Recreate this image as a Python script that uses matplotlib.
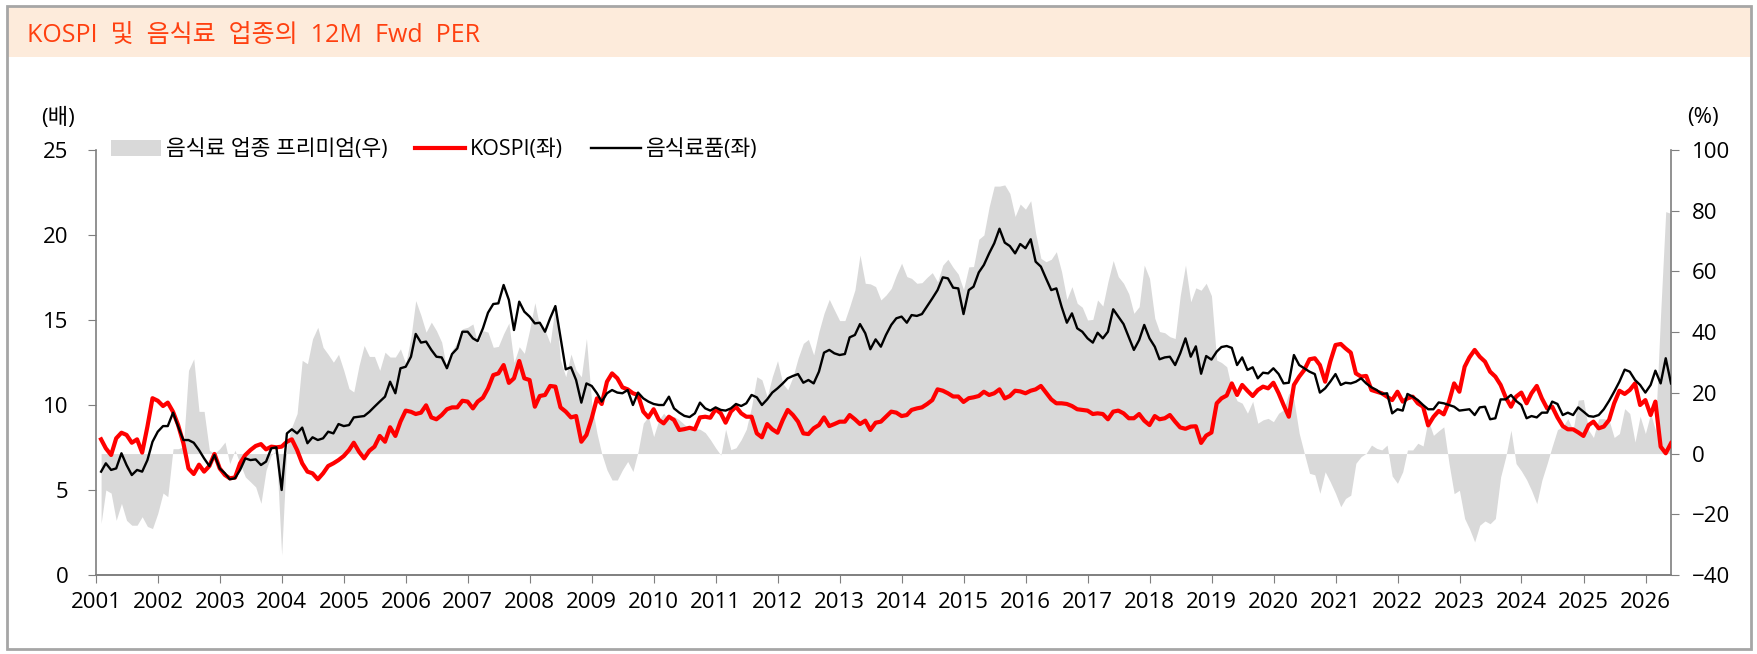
import matplotlib.pyplot as plt
import pandas as pd
from matplotlib.patches import Patch, Rectangle
from matplotlib.lines import Line2D

plt.rcParams['font.family'] = ['Open Sans', 'Noto Sans CJK KR', 'DejaVu Sans']

# 월말 기준, 2001.01 ~ 2026.05
kospi = [
    7.98, 7.45, 7.06, 8.04, 8.37, 8.24, 7.78, 7.98, 7.20, 8.73, 10.40, 10.25,   # 2001
    9.94, 10.14, 9.60, 8.82, 7.75, 6.27, 5.94, 6.49, 6.08, 6.41, 7.12, 6.27,    # 2002
    5.88, 5.69, 5.73, 6.57, 7.06, 7.35, 7.59, 7.70, 7.39, 7.55, 7.51, 7.55,     # 2003
    7.84, 7.98, 7.35, 6.57, 6.08, 5.98, 5.63, 5.98, 6.41, 6.57, 6.76, 7.00,     # 2004
    7.35, 7.78, 7.25, 6.86, 7.31, 7.55, 8.18, 7.84, 8.69, 8.18, 9.02, 9.67,     # 2005
    9.60, 9.47, 9.55, 9.98, 9.27, 9.16, 9.41, 9.75, 9.86, 9.86, 10.25, 10.20,   # 2006
    9.80, 10.20, 10.43, 10.98, 11.76, 11.86, 12.35, 11.30, 11.57, 12.59, 11.57, 11.47,  # 2007
    9.90, 10.53, 10.59, 11.12, 11.08, 9.86, 9.61, 9.27, 9.35, 7.84, 8.24, 9.22,  # 2008
    10.39, 10.06, 11.37, 11.86, 11.57, 11.04, 10.92, 10.69, 10.59, 9.61, 9.27, 9.75,  # 2009
    9.12, 8.92, 9.31, 9.12, 8.53, 8.58, 8.66, 8.57, 9.27, 9.31, 9.25, 9.75,     # 2010
    9.51, 8.96, 9.61, 9.90, 9.51, 9.31, 9.31, 8.33, 8.10, 8.88, 8.57, 8.37,     # 2011
    9.12, 9.71, 9.41, 9.02, 8.33, 8.29, 8.63, 8.82, 9.27, 8.76, 8.88, 9.02,     # 2012
    9.02, 9.41, 9.16, 8.88, 9.08, 8.53, 8.96, 9.02, 9.31, 9.61, 9.55, 9.35,     # 2013
    9.41, 9.71, 9.80, 9.86, 10.06, 10.29, 10.92, 10.84, 10.69, 10.50, 10.50, 10.18,  # 2014
    10.40, 10.45, 10.53, 10.78, 10.59, 10.69, 10.92, 10.39, 10.53, 10.84, 10.80, 10.69,  # 2015
    10.84, 10.92, 11.12, 10.73, 10.33, 10.10, 10.10, 10.06, 9.94, 9.75, 9.71, 9.67,  # 2016
    9.47, 9.51, 9.47, 9.16, 9.61, 9.67, 9.51, 9.22, 9.22, 9.47, 9.08, 8.82,     # 2017
    9.35, 9.16, 9.22, 9.41, 9.02, 8.68, 8.60, 8.73, 8.75, 7.77, 8.20, 8.38,     # 2018
    10.10, 10.39, 10.56, 11.27, 10.59, 11.18, 10.84, 10.53, 10.88, 11.08, 10.98, 11.31,  # 2019
    10.69, 10.00, 9.31, 11.18, 11.67, 12.06, 12.69, 12.75, 12.35, 11.37, 12.55, 13.53,  # 2020
    13.59, 13.33, 13.08, 11.86, 11.67, 11.71, 10.88, 10.78, 10.69, 10.49, 10.29, 10.78,  # 2021
    10.20, 10.39, 10.49, 10.10, 9.90, 8.80, 9.30, 9.65, 9.45, 10.20, 11.27, 10.78,  # 2022
    12.25, 12.80, 13.24, 12.84, 12.55, 11.96, 11.67, 11.18, 10.45, 9.90, 10.49, 10.73,  # 2023
    10.10, 10.69, 11.12, 10.39, 9.80, 9.90, 9.27, 8.76, 8.57, 8.57, 8.39, 8.18,  # 2024
    8.82, 9.02, 8.63, 8.73, 9.12, 10.10, 10.84, 10.65, 10.88, 11.27, 10.00, 10.29,  # 2025
    9.41, 10.20, 7.55, 7.16, 7.75,                                              # 2026
]

food = [
    6.08, 6.57, 6.18, 6.27, 7.16, 6.47, 5.88, 6.18, 6.08, 6.76, 7.84, 8.43,     # 2001
    8.76, 8.76, 9.55, 8.73, 7.94, 7.94, 7.78, 7.35, 6.86, 6.41, 7.06, 6.27,     # 2002
    5.98, 5.63, 5.69, 6.18, 6.86, 6.76, 6.80, 6.47, 6.67, 7.45, 7.51, 5.00,     # 2003
    8.33, 8.57, 8.33, 8.67, 7.75, 8.10, 7.94, 8.04, 8.43, 8.33, 8.88, 8.76,     # 2004
    8.82, 9.27, 9.31, 9.35, 9.60, 9.90, 10.20, 10.49, 11.37, 10.69, 12.16, 12.25,  # 2005
    12.84, 14.18, 13.67, 13.73, 13.24, 12.84, 12.80, 12.16, 13.00, 13.33, 14.31, 14.31,  # 2006
    13.92, 13.76, 14.51, 15.43, 15.94, 15.98, 17.06, 16.18, 14.41, 16.08, 15.49, 15.20,  # 2007
    14.80, 14.84, 14.31, 15.10, 15.82, 14.00, 12.10, 12.22, 11.47, 10.14, 11.27, 11.12,  # 2008
    10.69, 10.20, 10.69, 10.88, 10.73, 10.69, 10.88, 10.00, 10.73, 10.39, 10.20, 10.06,  # 2009
    10.00, 10.00, 10.49, 9.80, 9.55, 9.36, 9.29, 9.51, 10.14, 9.80, 9.67, 9.86,  # 2010
    9.71, 9.67, 9.80, 10.06, 9.94, 10.10, 10.59, 10.45, 10.00, 10.33, 10.73, 10.98,  # 2011
    11.27, 11.57, 11.71, 11.82, 11.31, 11.47, 11.27, 11.96, 13.08, 13.24, 13.04, 12.94,  # 2012
    13.00, 13.98, 14.12, 14.76, 14.22, 13.28, 13.86, 13.43, 14.12, 14.71, 15.10, 15.20,  # 2013
    14.84, 15.29, 15.24, 15.35, 15.82, 16.27, 16.76, 17.51, 17.45, 16.90, 16.86, 15.35,  # 2014
    16.76, 16.96, 17.80, 18.24, 18.92, 19.51, 20.37, 19.55, 19.35, 18.92, 19.47, 19.22,  # 2015
    19.75, 18.43, 18.14, 17.45, 16.76, 16.86, 15.78, 14.84, 15.39, 14.51, 14.31, 13.92,  # 2016
    13.67, 14.25, 13.92, 14.31, 15.63, 15.20, 14.76, 13.98, 13.24, 13.82, 14.71, 13.92,  # 2017
    13.43, 12.69, 12.80, 12.84, 12.35, 13.04, 13.92, 12.84, 13.45, 11.84, 12.88, 12.67,  # 2018
    13.14, 13.41, 13.47, 13.36, 12.35, 12.80, 12.06, 12.22, 11.57, 11.90, 11.86, 12.16,  # 2019
    11.82, 11.27, 11.31, 12.94, 12.35, 12.16, 11.96, 11.82, 10.73, 10.98, 11.37, 11.82,  # 2020
    11.18, 11.31, 11.27, 11.37, 11.57, 11.27, 11.04, 10.88, 10.65, 10.69, 9.51, 9.75,  # 2021
    9.67, 10.65, 10.49, 10.29, 10.00, 9.75, 9.75, 10.15, 10.10, 10.00, 9.90, 9.67,  # 2022
    9.71, 9.75, 9.41, 9.86, 9.90, 9.16, 9.22, 10.33, 10.33, 10.59, 10.24, 10.00,  # 2023
    9.22, 9.35, 9.27, 9.55, 9.55, 10.20, 10.06, 9.41, 9.55, 9.41, 9.86, 9.61,   # 2024
    9.35, 9.31, 9.41, 9.75, 10.24, 10.78, 11.37, 12.08, 11.96, 11.47, 11.18, 10.73,  # 2025
    11.18, 12.02, 11.27, 12.75, 11.27,                                          # 2026
]

# 음식료 업종 프리미엄(%)
premium = [
    -23.0, -12.0, -13.0, -22.0, -16.4, -22.0, -23.6, -23.6, -20.8, -24.0, -24.7, -19.7,  # 2001
    -13.0, -14.2, 1.6, 1.6, 2.2, 27.4, 31.2, 13.9, 13.9, 1.1, 0.0, 1.6,         # 2002
    3.8, -3.3, 1.1, -3.3, -7.7, -9.3, -11.0, -16.4, -5.5, -0.5, 1.1, -33.4,     # 2003
    2.7, 8.8, 13.2, 30.7, 29.6, 37.8, 41.6, 35.0, 32.7, 30.1, 32.7, 27.4,       # 2004
    21.4, 20.3, 29.0, 35.6, 32.0, 32.0, 27.4, 33.4, 31.8, 31.8, 34.5, 29.6,     # 2005
    38.4, 50.4, 45.5, 40.0, 43.3, 40.5, 36.7, 27.4, 34.0, 36.7, 41.1, 41.6,     # 2006
    42.7, 36.2, 40.5, 40.0, 35.0, 35.3, 39.5, 43.0, 30.0, 35.2, 33.0, 40.7,     # 2007
    49.7, 41.8, 40.7, 36.3, 48.9, 30.8, 25.3, 32.8, 27.5, 25.3, 37.9, 16.6,     # 2008
    6.7, 0.0, -5.4, -8.7, -8.7, -5.4, -2.6, -5.9, 0.6, 10.0, 12.2, 5.6,         # 2009
    11.1, 13.3, 11.1, 12.2, 11.1, 9.6, 8.0, 8.3, 8.0, 6.9, 4.6, 1.9,            # 2010
    -0.5, 8.0, 1.3, 1.9, 4.6, 8.0, 15.5, 25.3, 24.3, 18.7, 25.3, 30.6,          # 2011
    23.1, 21.0, 25.3, 31.4, 36.3, 37.6, 32.5, 40.2, 46.2, 50.8, 47.3, 43.8,     # 2012
    43.8, 48.4, 53.9, 65.4, 56.1, 55.9, 55.0, 50.6, 52.2, 54.4, 58.8, 62.7,     # 2013
    58.3, 57.7, 56.1, 56.3, 58.1, 59.6, 56.6, 62.1, 64.0, 61.3, 59.1, 54.0,     # 2014
    61.5, 61.6, 70.6, 72.0, 81.3, 88.1, 88.1, 88.5, 85.7, 78.1, 82.2, 80.5,     # 2015
    83.3, 72.6, 64.3, 63.2, 64.0, 66.5, 59.9, 50.8, 55.0, 49.5, 48.2, 44.0,     # 2016
    44.2, 50.6, 48.6, 56.6, 63.6, 58.3, 56.1, 52.6, 46.2, 48.4, 62.1, 57.7,     # 2017
    44.6, 40.2, 39.8, 38.5, 37.9, 52.0, 62.1, 50.0, 54.6, 53.8, 56.1, 52.0,     # 2018
    30.8, 30.0, 28.6, 21.2, 17.4, 16.6, 13.3, 17.2, 10.0, 11.1, 11.6, 10.5,     # 2019
    13.3, 14.4, 19.9, 17.7, 6.7, 0.1, -6.5, -7.0, -13.1, -6.0, -9.3, -13.1,     # 2020
    -17.5, -14.8, -13.7, -3.2, -1.0, 0.1, 2.8, 1.7, 1.2, 2.8, -7.4, -9.8,       # 2021
    -6.0, 1.2, 1.2, 3.4, 2.5, 11.1, 6.0, 7.5, 8.8, -3.3, -13.2, -12.1,          # 2022
    -21.4, -24.7, -29.1, -23.6, -22.2, -23.1, -21.4, -7.7, -1.1, 7.7, -3.3, -5.7,  # 2023
    -8.6, -12.1, -16.5, -8.8, -3.3, 2.4, 7.9, 8.8, 11.5, 7.7, 17.6, 17.8,       # 2024
    7.7, 5.3, 11.5, 11.5, 11.0, 5.3, 6.6, 14.8, 13.2, 3.8, 12.3, 6.6,           # 2025
    13.2, 7.7, 46.2, 79.7, 79.1,                                                # 2026
]

dates = pd.date_range('2001-01-31', periods=len(kospi), freq='ME')
years = list(range(2001, 2027))

W, H = 1757, 654
fig = plt.figure(figsize=(W / 100, H / 100), dpi=100)


def box(x0, y0, x1, y1):
    return [x0 / W, 1 - y1 / H, (x1 - x0) / W, (y1 - y0) / H]


# 제목 띠와 테두리
fig.patches.append(Rectangle((7 / W, 1 - 57 / H), 1744 / W, 51 / H,
                             transform=fig.transFigure, facecolor='#FDEBDB',
                             edgecolor='none', zorder=0))
fig.patches.append(Rectangle((7 / W, 1 - 649 / H), 1744 / W, 643 / H,
                             transform=fig.transFigure, facecolor='none',
                             edgecolor='#A6A6A6', linewidth=2, zorder=1))
fig.text(27 / W, 1 - 35 / H, 'KOSPI  및  음식료  업종의  12M  Fwd  PER',
         color='#FF4010', fontsize=18, va='center', ha='left')

ax = fig.add_axes(box(96, 150, 1671, 575))
ax2 = ax.twinx()

ax2.fill_between(dates, 0, premium, color='#D9D9D9', linewidth=0)
ax.plot(dates, kospi, color='#FF0000', linewidth=3)
ax.plot(dates, food, color='black', linewidth=1.7)

ax.set_zorder(ax2.get_zorder() + 1)
ax.patch.set_visible(False)

ax.set_xlim(pd.Timestamp('2001-01-01'), dates[-1])
ax.set_ylim(0, 25)
ax.set_yticks(range(0, 26, 5))
ax2.set_ylim(-40, 100)
ax2.set_yticks(range(-40, 101, 20))

ax.set_xticks([pd.Timestamp(f'{y}-01-01') for y in years])
ax.set_xticklabels([str(y) for y in years])

axis_col = '#7F7F7F'
for a in (ax, ax2):
    a.spines['top'].set_visible(False)
    for s in ('left', 'right', 'bottom'):
        a.spines[s].set_color(axis_col)
        a.spines[s].set_linewidth(1.2)
ax.spines['right'].set_visible(False)
ax2.spines['left'].set_visible(False)

ax.tick_params(axis='x', direction='out', length=6, color=axis_col,
               labelsize=16, pad=6)
ax.tick_params(axis='y', direction='out', length=6, color=axis_col,
               labelsize=16, pad=14)
ax2.tick_params(axis='y', direction='out', length=6, color=axis_col,
                labelsize=16, pad=9)

fig.text(58 / W, 1 - 118 / H, '(배)', fontsize=16, ha='center', va='center')
fig.text(1703 / W, 1 - 118 / H, '(%)', fontsize=16, ha='center', va='center')

handles = [Patch(facecolor='#D9D9D9', edgecolor='none'),
           Line2D([], [], color='#FF0000', linewidth=3),
           Line2D([], [], color='black', linewidth=1.7)]
labels = ['음식료 업종 프리미엄(우)', 'KOSPI(좌)', '음식료품(좌)']
ax.legend(handles, labels, loc='center left', bbox_to_anchor=(0.0, 1.0),
          ncol=3, frameon=False, fontsize=15.5, handlelength=2.3,
          handletextpad=0.25, columnspacing=1.3, borderaxespad=0.3)

fig.savefig('out.png', dpi=100)
